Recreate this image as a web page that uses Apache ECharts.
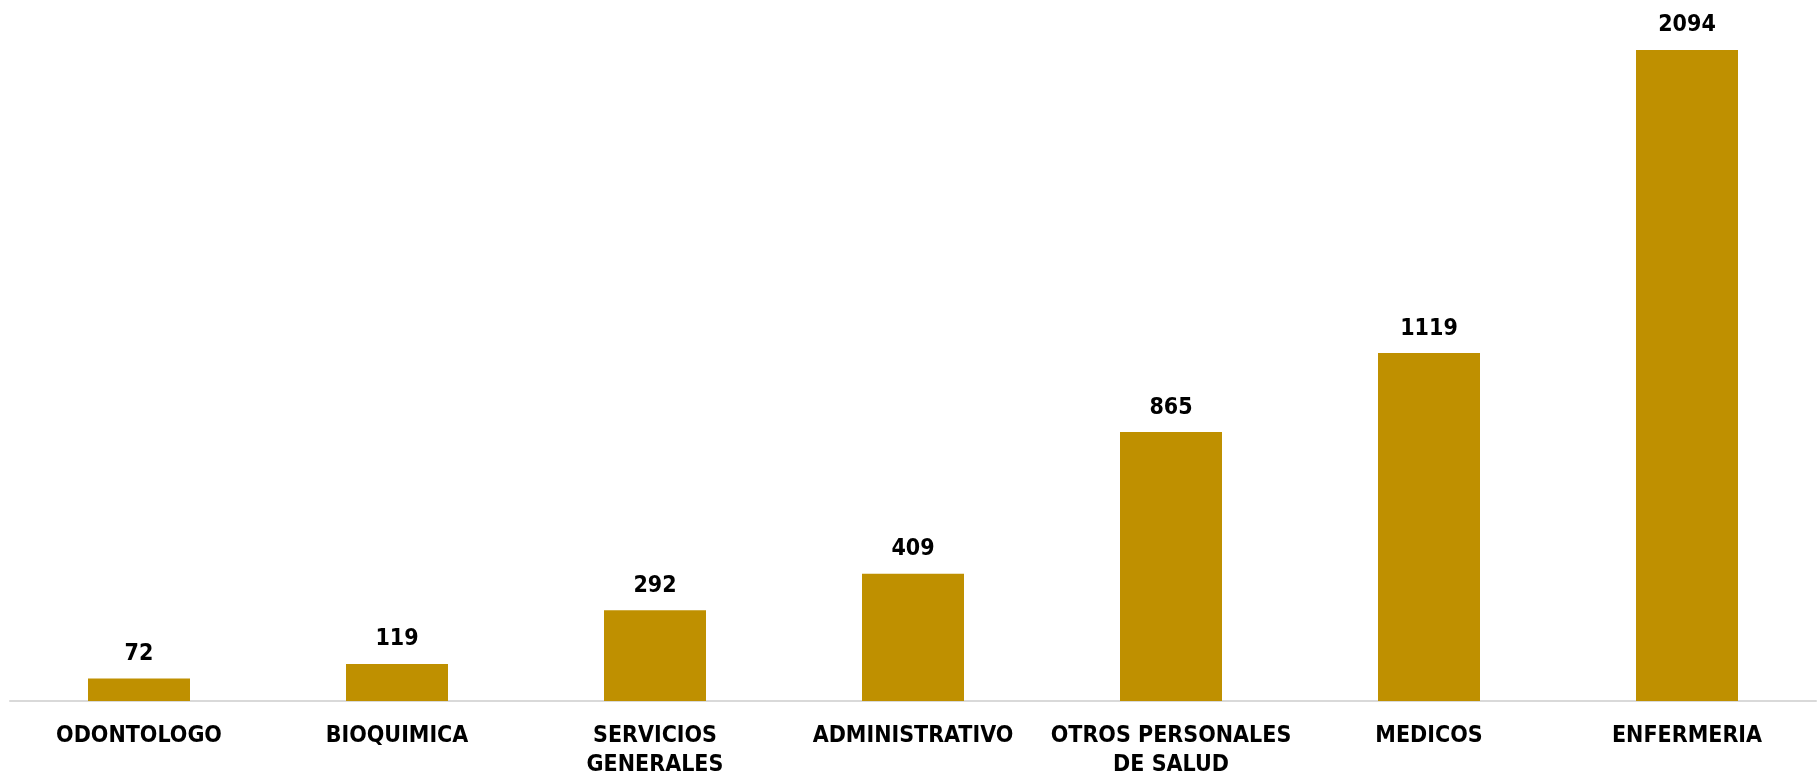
<!DOCTYPE html>
<html>
<head>
<meta charset="utf-8">
<script src="https://cdn.jsdelivr.net/npm/echarts@6/dist/echarts.min.js"></script>
<style>
  html, body { margin: 0; padding: 0; background: #fff; }
  #chart { width: 1820px; height: 776px; }
</style>
</head>
<body>
<div id="chart"></div>
<script>
// categories and values
const categories = ['ODONTOLOGO', 'BIOQUIMICA', 'SERVICIOS\nGENERALES', 'ADMINISTRATIVO',
  'OTROS PERSONALES\nDE SALUD', 'MEDICOS', 'ENFERMERIA'];
const values = [72, 119, 292, 409, 865, 1119, 2094];

const font = "'Liberation Sans Narrow', 'DejaVu Sans Condensed', 'Arial Narrow', sans-serif";

const chart = echarts.init(document.getElementById('chart'));

const option = {
  animation: false,
  grid: { left: 10, right: 4, top: 17, bottom: 75, outerBoundsMode: 'none' },
  xAxis: {
    type: 'category',
    data: categories,
    axisLine: { show: true, lineStyle: { color: '#d9d9d9', width: 2 } },
    axisTick: { show: false },
    axisLabel: {
      interval: 0,
      margin: 21,
      color: '#000',
      fontFamily: font,
      fontWeight: 'bold',
      fontSize: 23,
      lineHeight: 29
    }
  },
  yAxis: {
    type: 'value',
    min: 0,
    max: 2200,
    show: false
  },
  series: [
    {
      type: 'bar',
      data: values,
      barWidth: 102,
      itemStyle: { color: '#BF9000' },
      label: {
        show: true,
        position: 'top',
        distance: 13,
        color: '#000',
        fontFamily: font,
        fontWeight: 'bold',
        fontSize: 23
      }
    }
  ]
};

chart.setOption(option);
</script>
</body>
</html>
